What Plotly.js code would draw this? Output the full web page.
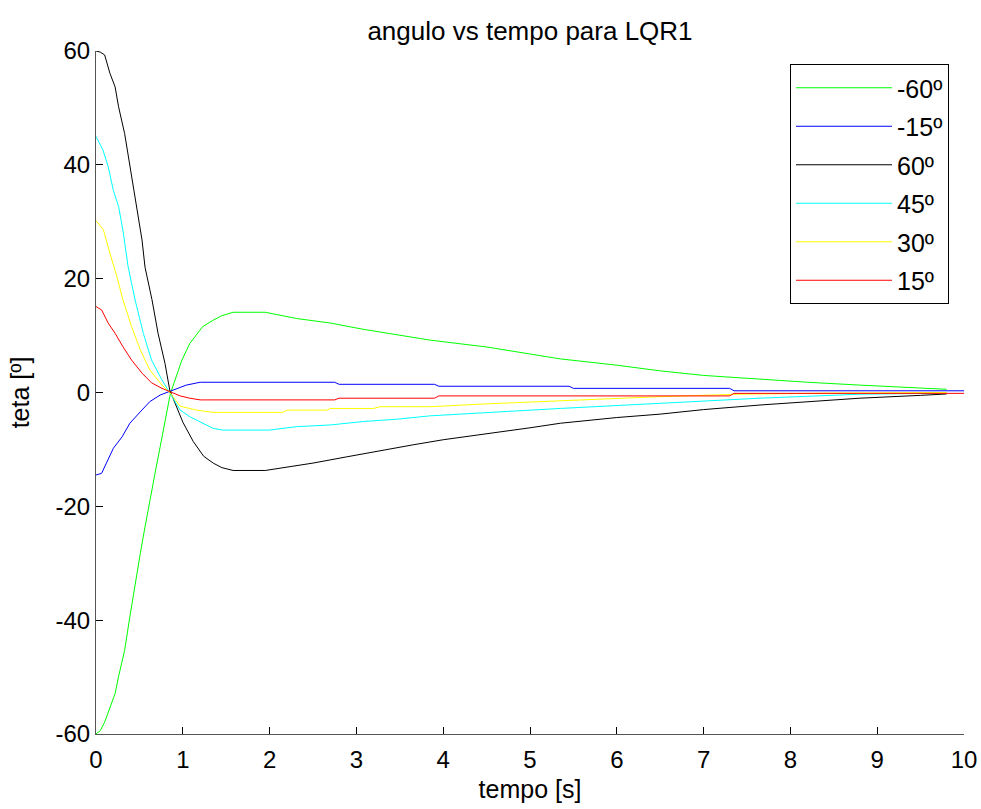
<!DOCTYPE html>
<html>
<head>
<meta charset="utf-8">
<script src="https://cdn.plot.ly/plotly-3.0.1.min.js"></script>
<style>html,body{margin:0;padding:0;background:#fff;}#chart{width:981px;height:809px;}</style>
</head>
<body>
<div id="chart"></div>
<script>
// Series data
const seriesNames = ['-60º', '-15º', '60º', '45º', '30º', '15º'];
const seriesColors = ['#00ff00', '#0000ff', '#000000', '#00ffff', '#ffff00', '#ff0000'];

const tNeg60 = [0, 0.05, 0.1, 0.16, 0.22, 0.26, 0.33, 0.39, 0.45, 0.51, 0.565, 0.62, 0.68, 0.74, 0.795, 0.85, 0.87, 0.93, 0.99, 1.08, 1.23, 1.35, 1.45, 1.58, 1.95, 2.31, 2.7, 3.08, 3.46, 3.85, 4.5, 5.0, 5.35, 6.0, 6.5, 7.0, 7.65, 8.2, 8.8, 9.4, 9.8];
const vNeg60 = [-60, -59.4, -57.9, -55.2, -52.9, -49.9, -45.3, -39.4, -33.5, -28.3, -23.6, -18.9, -14.2, -9.5, -4.8, -0.7, 0.4, 3.2, 5.7, 8.6, 11.6, 12.7, 13.5, 14.1, 14.1, 13.0, 12.2, 11.1, 10.1, 9.2, 8.0, 6.8, 5.9, 4.8, 3.8, 3.0, 2.3, 1.8, 1.3, 0.9, 0.56];

const tNeg15 = [0, 0.065, 0.12, 0.2, 0.3, 0.39, 0.51, 0.62, 0.74, 0.85, 1.04, 1.2, 2.75, 2.8, 3.9, 3.95, 5.45, 5.5, 7.3, 7.35, 10];
const vNeg15 = [-14.5, -14.2, -12.4, -9.8, -7.8, -5.4, -3.4, -1.6, -0.44, 0.15, 1.3, 1.8, 1.8, 1.44, 1.44, 1.1, 1.1, 0.73, 0.73, 0.3, 0.3];

const tPos60 = [0, 0.05, 0.1, 0.16, 0.22, 0.26, 0.33, 0.39, 0.45, 0.53, 0.565, 0.645, 0.715, 0.795, 0.85, 0.93, 1.0, 1.12, 1.24, 1.35, 1.45, 1.58, 1.95, 2.12, 2.5, 2.89, 3.27, 3.65, 4.0, 4.5, 5.0, 5.35, 6.0, 6.5, 7.0, 7.65, 8.0, 8.8, 9.5, 9.8];
const vPos60 = [60, 59.8, 59.3, 56.1, 53.7, 50.2, 45.5, 39.7, 33.8, 26.8, 22.0, 16.3, 10.4, 5.1, 0.4, -2.5, -5.2, -8.6, -11.2, -12.4, -13.2, -13.7, -13.7, -13.3, -12.4, -11.3, -10.2, -9.2, -8.3, -7.3, -6.2, -5.4, -4.4, -3.8, -3.0, -2.2, -1.8, -1.0, -0.5, -0.26];

const tPos45 = [0, 0.08, 0.14, 0.2, 0.26, 0.31, 0.37, 0.45, 0.545, 0.64, 0.76, 0.85, 0.97, 1.08, 1.2, 1.35, 1.46, 2.0, 2.31, 2.7, 3.08, 3.46, 3.85, 4.5, 5.35, 6.5, 7.65, 8.8, 9.8];
const vPos45 = [45, 42.6, 39.7, 35.5, 32.7, 28.5, 22.1, 16.3, 10.4, 5.7, 2.2, 0, -3.1, -4.25, -5.1, -6.3, -6.6, -6.6, -6.0, -5.7, -5.1, -4.7, -4.1, -3.5, -2.8, -1.9, -1.0, -0.3, -0.1];

const tPos30 = [0, 0.085, 0.16, 0.24, 0.31, 0.41, 0.51, 0.62, 0.76, 0.85, 0.97, 1.16, 1.35, 2.15, 2.2, 2.66, 2.7, 3.2, 3.27, 3.85, 4.5, 5.35, 5.8, 6.5, 7.4, 8.5, 9.8];
const vPos30 = [30.2, 28.6, 24.5, 20.4, 16.3, 11.6, 7.5, 3.95, 1.3, 0, -2.4, -3.1, -3.5, -3.5, -3.1, -3.1, -2.8, -2.8, -2.5, -2.5, -2.0, -1.43, -1.08, -0.73, -0.3, -0.1, 0];

const tPos15 = [0, 0.065, 0.14, 0.22, 0.31, 0.41, 0.53, 0.64, 0.76, 0.85, 0.97, 1.08, 1.2, 2.75, 2.8, 3.9, 3.95, 7.3, 7.35, 10];
const vPos15 = [15.1, 14.5, 12.2, 10.4, 8.05, 5.7, 3.4, 1.7, 0.73, 0.1, -0.6, -1.0, -1.3, -1.3, -1.0, -1.0, -0.6, -0.6, -0.15, -0.15];

const xTicks = [0, 1, 2, 3, 4, 5, 6, 7, 8, 9, 10];
const yTicks = [-60, -40, -20, 0, 20, 40, 60];

const tData = [tNeg60, tNeg15, tPos60, tPos45, tPos30, tPos15];
const vData = [vNeg60, vNeg15, vPos60, vPos45, vPos30, vPos15];

const FONT = 'Liberation Sans, Arial, sans-serif';

const traces = seriesNames.map((name, i) => ({
  type: 'scatter',
  mode: 'lines',
  name: name,
  x: tData[i],
  y: vData[i],
  legendgroup: 'g' + i,
  line: {color: seriesColors[i], width: 1}
}));

const layout = {
  width: 981,
  height: 809,
  margin: {l: 96, r: 17, t: 51, b: 75, pad: 0},
  paper_bgcolor: '#ffffff',
  plot_bgcolor: '#ffffff',
  font: {family: FONT, color: '#000000', size: 24},
  title: {
    text: 'angulo vs tempo para LQR1',
    font: {family: FONT, size: 26, color: '#000000'},
    x: 0.5, xref: 'paper', xanchor: 'center',
    y: 1 - 31 / 809, yref: 'container', yanchor: 'middle'
  },
  showlegend: true,
  legend: {
    x: (790 - 96) / 868, y: (734 - 64) / 683,
    xanchor: 'left', yanchor: 'top',
    bordercolor: '#000000', borderwidth: 1,
    bgcolor: '#ffffff',
    font: {family: FONT, size: 25, color: '#000000'},
    itemwidth: 96,
    tracegroupgap: 3,
    traceorder: 'grouped'
  },
  xaxis: {
    range: [0, 10],
    tickvals: xTicks,
    ticktext: xTicks.map(String),
    ticks: 'inside', ticklen: 7, tickwidth: 1, tickcolor: '#000000',
    showline: true, linecolor: '#555555', linewidth: 1,
    showgrid: false, zeroline: false,
    mirror: false,
    ticklabelstandoff: 4,
    tickfont: {family: FONT, size: 24, color: '#000000'},
    title: {text: 'tempo [s]', font: {family: FONT, size: 25, color: '#000000'}, standoff: 8}
  },
  yaxis: {
    range: [-60, 60],
    tickvals: yTicks,
    ticktext: yTicks.map(String),
    ticks: 'inside', ticklen: 7, tickwidth: 1, tickcolor: '#000000',
    showline: true, linecolor: '#555555', linewidth: 1,
    showgrid: false, zeroline: false,
    mirror: false,
    tickfont: {family: FONT, size: 24, color: '#000000'},
    title: {text: 'teta [º]', font: {family: FONT, size: 25, color: '#000000'}, standoff: 18}
  }
};

Plotly.newPlot('chart', traces, layout, {displayModeBar: false, staticPlot: true});
</script>
</body>
</html>
